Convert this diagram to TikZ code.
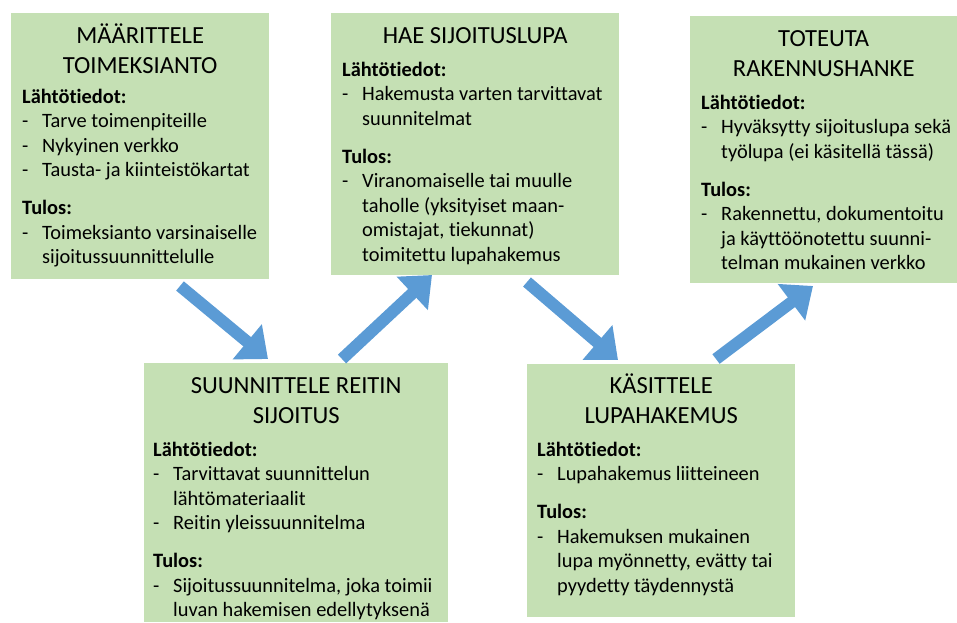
\documentclass[tikz,border=0pt]{standalone}
\usepackage{fontspec}
\setmainfont{Carlito}[Ligatures={NoCommon}]
\usetikzlibrary{arrows.meta}
\definecolor{boxgreen}{HTML}{C5E0B4}
\definecolor{arrowblue}{HTML}{5B9BD5}
\newcommand{\bxttl}[2][0pt]{{\centering\rightskip=#1 plus 1fil\fontsize{24.6}{30}\selectfont #2\par}}
\newcommand{\bxhd}[2][8.5pt]{\vspace{#1}\noindent{\bfseries #2}\par}
\newcommand{\bxit}[1]{\hangindent=20pt\hangafter=1\noindent\makebox[20pt][l]{-}#1\par}
\newcommand{\bxgap}{\vspace{13.5pt}}
\newcommand{\bxtext}[2]{\parbox[t]{#1}{\lineskiplimit=-\maxdimen\fontsize{20.4}{24.5}\selectfont\raggedright #2}}
\tikzset{
  stepbox/.style={fill=boxgreen, draw=none, inner sep=0pt, anchor=north west},
  steptext/.style={inner sep=0pt, anchor=base west, text=black},
  flow/.style={draw=arrowblue, line width=12pt, -{Triangle[width=44pt,length=27pt]}}
}
\begin{document}
\begin{tikzpicture}[x=1pt,y=-1pt]
\useasboundingbox (0,0) rectangle (957,622);
% boxes
\node[stepbox, minimum width=258pt, minimum height=266pt] (b1) at (11,13) {};
\node[stepbox, minimum width=288pt, minimum height=262pt] (b2) at (331,13) {};
\node[stepbox, minimum width=267pt, minimum height=267pt] (b3) at (690,16) {};
\node[stepbox, minimum width=304pt, minimum height=259pt] (b4) at (144,363) {};
\node[stepbox, minimum width=268pt, minimum height=253pt] (b5) at (527,364) {};
% texts
\node[steptext] (t1) at (22,43) {\bxtext{236pt}{%
\bxttl{MÄÄRITTELE\\TOIMEKSIANTO}
\bxhd[5.5pt]{Lähtötiedot:}
\bxit{Tarve toimenpiteille}
\bxit{Nykyinen verkko}
\bxit{Tausta- ja kiinteistökartat}
\bxgap\bxhd[0pt]{Tulos:}
\bxit{Toimeksianto varsinaiselle\newline sijoitussuunnittelulle}}};
\node[steptext] (t2) at (342,43) {\bxtext{266pt}{%
\bxttl{HAE SIJOITUSLUPA}
\bxhd{Lähtötiedot:}
\bxit{Hakemusta varten tarvittavat\newline suunnitelmat}
\bxgap\bxhd[0pt]{Tulos:}
\bxit{Viranomaiselle tai muulle\newline taholle (yksityiset maan-\newline omistajat, tiekunnat)\newline toimitettu lupahakemus}}};
\node[steptext] (t3) at (701,46) {\bxtext{275pt}{%
\bxttl[30pt]{TOTEUTA\\RAKENNUSHANKE}
\bxhd{Lähtötiedot:}
\bxit{Hyväksytty sijoituslupa sekä\newline työlupa (ei käsitellä tässä)}
\bxgap\bxhd[0pt]{Tulos:}
\bxit{Rakennettu, dokumentoitu\newline ja käyttöönotettu suunni-\newline telman mukainen verkko}}};
\node[steptext] (t4) at (153,393) {\bxtext{286pt}{%
\bxttl{SUUNNITTELE REITIN\\SIJOITUS}
\bxhd{Lähtötiedot:}
\bxit{Tarvittavat suunnittelun\newline lähtömateriaalit}
\bxit{Reitin yleissuunnitelma}
\bxgap\bxhd[0pt]{Tulos:}
\bxit{Sijoitussuunnitelma, joka toimii\newline luvan hakemisen edellytyksenä}}};
\node[steptext] (t5) at (537,393) {\bxtext{248pt}{%
\bxttl{KÄSITTELE\\LUPAHAKEMUS}
\bxhd{Lähtötiedot:}
\bxit{Lupahakemus liitteineen}
\bxgap\bxhd[0pt]{Tulos:}
\bxit{Hakemuksen mukainen\newline lupa myönnetty, evätty tai\newline pyydetty täydennystä}}};
% arrow end points
\coordinate (a1s) at (180,286);
\coordinate (a1e) at (268,359);
\coordinate (a2s) at (342,359);
\coordinate (a2e) at (432,275);
\coordinate (a3s) at (527,282);
\coordinate (a3e) at (618,360);
\coordinate (a4s) at (716,359);
\coordinate (a4e) at (813,286);
\draw[flow] (a1s) -- (a1e);
\draw[flow] (a2s) -- (a2e);
\draw[flow] (a3s) -- (a3e);
\draw[flow] (a4s) -- (a4e);
\end{tikzpicture}
\end{document}
